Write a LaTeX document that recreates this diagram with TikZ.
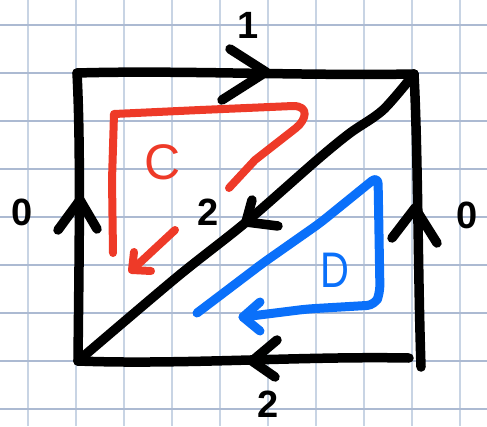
\documentclass[tikz,border=0pt]{standalone}
\usepackage{fontspec}
\setmainfont{Liberation Sans}
\definecolor{penred}{RGB}{238,58,40}
\definecolor{penblue}{RGB}{10,112,250}
\definecolor{gridv}{RGB}{200,212,228}
\definecolor{gridh}{RGB}{172,186,210}
\begin{document}
\begin{tikzpicture}[x=1pt,y=-1pt,
  ink/.style={line width=9.5pt,line cap=round,line join=round},
  edgeline/.style={ink,black},
  redpen/.style={line width=8pt,line cap=round,line join=round,draw=penred},
  bluepen/.style={line width=9pt,line cap=round,line join=round,draw=penblue},
  vline/.style={draw=gridv,line width=1.5pt},
  hline/.style={draw=gridh,line width=1.5pt},
  digit/.style={font=\fontsize{38}{38}\selectfont\bfseries,inner sep=0pt},
  letter/.style={font=\fontsize{50}{50}\selectfont,inner sep=0pt}
]
\useasboundingbox (0,0) rectangle (487,426);
\fill[white] (0,0) rectangle (487,426);
% grid paper
\foreach \x in {28,76,...,460} \draw[vline] (\x,0) -- (\x,426);
\foreach \y in {25,73,...,409} \draw[hline] (0,\y) -- (487,\y);
% corners
\coordinate (TL) at (77,73);
\coordinate (TR) at (414,74);
\coordinate (BL) at (78,361);
\coordinate (BR) at (409,358);
\coordinate (RB) at (421,367);
% square edges
\draw[edgeline] (TL) .. controls (180,70) and (300,76) .. (TR);
\draw[edgeline] (TL) .. controls (81,150) and (79,260) .. (BL);
\draw[edgeline] (TR) .. controls (418,150) and (418,280) .. (RB);
\draw[edgeline] (BL) .. controls (180,365) and (300,356) .. (BR);
% diagonal
\draw[edgeline] plot[smooth,tension=0.5] coordinates {(BL) (177,277) (245,223) (317,160) (350,133) (383,110) (TR)};
% chevrons
\coordinate (tT) at (266,72);
\coordinate (tL) at (80,200);
\coordinate (tR) at (415,208);
\coordinate (tB) at (252,361);
\coordinate (tD) at (246,222);
\draw[edgeline] (230,49) -- (tT) -- (222,100);
\draw[edgeline] (58,230) -- (tL) -- (97,229);
\draw[edgeline] (392,238) -- (tR) -- (437,243);
\draw[edgeline] (277,340) -- (tB) -- (275,377);
\draw[edgeline] (252,200) -- (tD) -- (278,226);
% labels
\node[digit] (one) at (248,25) {1};
\node[digit] (zeroL) at (22,212) {0};
\node[digit] (zeroR) at (467,215) {0};
\node[digit] (twoB) at (268,404) {2};
\node[digit] (twoD) at (208,212) {2};
% red loop C
\draw[redpen] (113,253) -- (112,180) -- (114,114) -- (200,110) -- (293,106)
  .. controls (310,106) and (306,120) .. (296,128) -- (255,160) -- (229,188);
\coordinate (rA) at (132,270);
\draw[redpen] (175,230) -- (rA);
\draw[redpen] (134,252) -- (rA) -- (151,271);
\node[letter,text=penred] (C) at (163,162) {C};
% blue loop D
\coordinate (bA) at (243,317);
\draw[bluepen,rounded corners=8pt] (197,313) -- (263,263) -- (320,223) -- (378,176) -- (380,293) -- (375,305) -- (307,309) -- (bA);
\draw[bluepen] (260,302) -- (bA) -- (260,331);
\node[letter,text=penblue,xscale=0.8] (D) at (335,270) {D};
\end{tikzpicture}
\end{document}
